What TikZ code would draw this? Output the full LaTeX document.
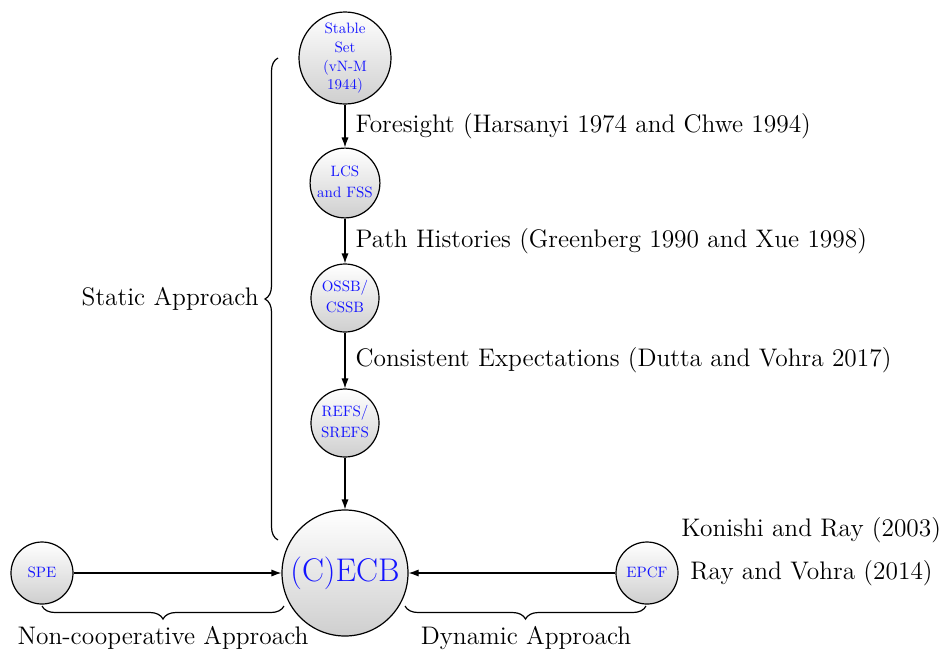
\documentclass[tikz,border=0pt]{standalone}
\usepackage{graphicx}
\usetikzlibrary{decorations.pathreplacing,arrows.meta,shadings}
\newcommand{\ctxt}[2][13.5]{\scalebox{0.75}{\fontsize{10}{#1}\selectfont\begin{tabular}{@{}c@{}}#2\end{tabular}}}
\begin{document}
\begin{tikzpicture}[x=0.5pt,y=-0.5pt,
  circ/.style={circle,draw=black,line width=0.6pt,top color=white,bottom color=gray!38,
    text=blue!92,align=center,inner sep=0pt},
  arr/.style={line width=0.6pt,-{Latex[length=5pt,width=3.6pt]}},
  lab/.style={font=\fontsize{12.7}{15}\selectfont,inner sep=0pt},
  br/.style={line width=0.6pt,decorate,decoration={brace,amplitude=6.5pt}}]
\useasboundingbox (0,0) rectangle (941,649);
\renewcommand{\arraystretch}{1.05}
\node[circ,minimum size=46pt] (ss) at (345,58) {\ctxt[11.9]{Stable\\Set\\(vN-M\\1944)}};
\node[circ,minimum size=34pt] (lcs) at (345,183) {\ctxt{LCS\\and FSS}};
\node[circ,minimum size=34pt] (ossb) at (345,298) {\ctxt{OSSB/\\CSSB}};
\node[circ,minimum size=34pt] (refs) at (345,423) {\ctxt{REFS/\\SREFS}};
\node[circ,minimum size=63pt,font=\fontsize{16.4}{19}\selectfont] (ecb) at (345,573) {(C)ECB};
\node[circ,minimum size=31pt] (spe) at (42,573) {\ctxt{SPE}};
\node[circ,minimum size=31pt] (epcf) at (647,573) {\ctxt{EPCF}};
\draw[arr] (ss) -- node[lab,right,xshift=5pt] (l1) {Foresight (Harsanyi 1974 and Chwe 1994)} (lcs);
\draw[arr] (lcs) -- node[lab,right,xshift=5pt] (l2) {Path Histories (Greenberg 1990 and Xue 1998)} (ossb);
\draw[arr] (ossb) -- node[lab,right,xshift=5pt] (l3) {Consistent Expectations (Dutta and Vohra 2017)} (refs);
\draw[arr] (refs) -- (ecb);
\draw[arr] (spe) -- (ecb);
\draw[arr] (epcf) -- (ecb);
\node[lab,anchor=west] (rv) at (690,573) {Ray and Vohra (2014)};
\node[lab,anchor=west] (kr) at (681,530) {Konishi and Ray (2003)};
\coordinate (sb1) at (278,540);
\coordinate (sb2) at (278,58);
\draw[br] (sb1) -- (sb2);
\node[lab,anchor=east] (st) at (259,299) {Static Approach};
\coordinate (nb1) at (284,606);
\coordinate (nb2) at (42,606);
\draw[br] (nb1) -- (nb2);
\node[lab] (nc) at (163,638) {Non-cooperative Approach};
\coordinate (db1) at (646,606);
\coordinate (db2) at (405,606);
\draw[br] (db1) -- (db2);
\node[lab] (da) at (526,638) {Dynamic Approach};
\end{tikzpicture}
\end{document}
